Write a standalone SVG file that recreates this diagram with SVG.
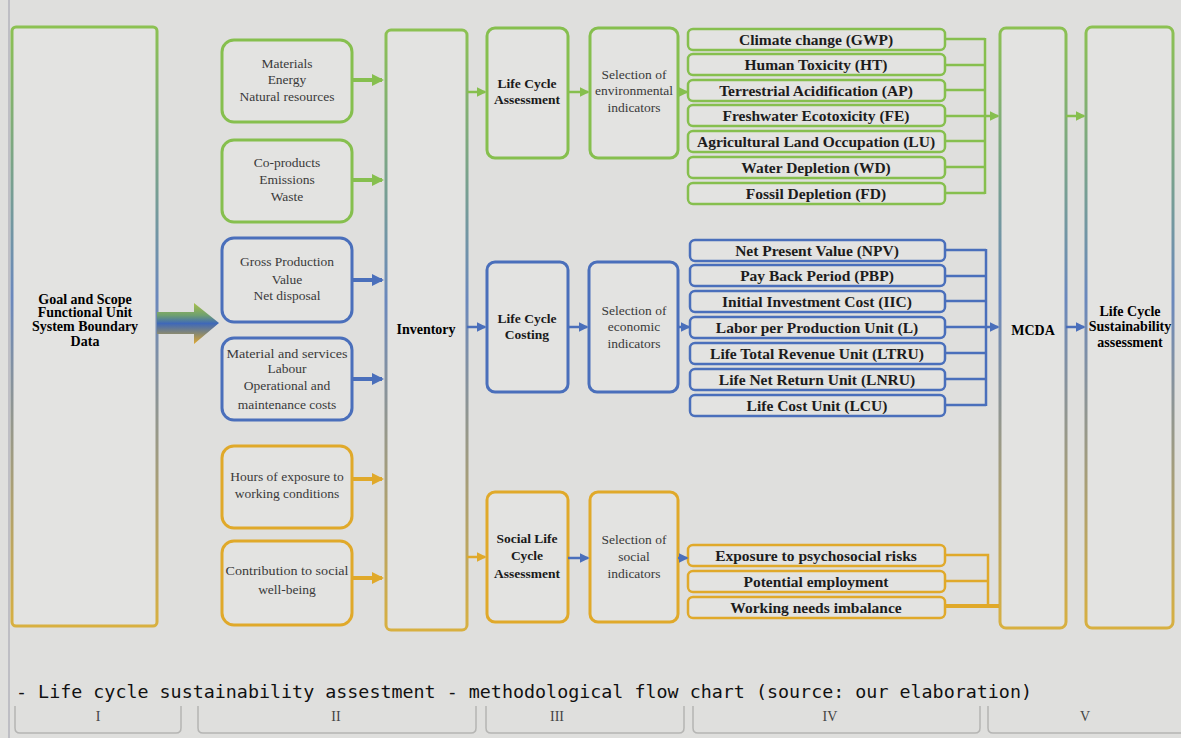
<svg xmlns="http://www.w3.org/2000/svg" width="1181" height="738" viewBox="0 0 1181 738">
<style>
.bg{fill:#dfdfdd}
.g{stroke:#86bf4e}
.b{stroke:#4a6fbb}
.o{stroke:#e0a92a}
.box{fill:#e3e3e1;stroke-width:3}
.ind{fill:#e3e3e1;stroke-width:2.5}
.t{font-family:"Liberation Serif","Times New Roman",serif;fill:#3a3a3a;text-anchor:middle;font-size:13.5px}
.ts{font-family:"Liberation Serif","Times New Roman",serif;fill:#3a3a3a;text-anchor:middle;font-size:13.5px}
.tb{font-family:"Liberation Serif","Times New Roman",serif;fill:#1a1a1a;text-anchor:middle;font-weight:bold;font-size:13.5px}
.ti{font-family:"Liberation Serif","Times New Roman",serif;fill:#1c1c1c;text-anchor:middle;font-weight:bold;font-size:15.5px}
.big{font-family:"Liberation Serif","Times New Roman",serif;fill:#000;text-anchor:middle;font-weight:900;font-size:14px}
.ln{fill:none;stroke-width:2.5}
.ar{fill:none;stroke-width:4}
.tab{fill:none;stroke:#b5b5b3;stroke-width:1.5}
.tl{font-family:"Liberation Serif","Times New Roman",serif;fill:#444;text-anchor:middle;font-size:14px}
</style>
<defs>
<linearGradient id="vg" x1="0" y1="0" x2="0" y2="1">
<stop offset="0" stop-color="#8cc152"/>
<stop offset="0.45" stop-color="#6a88bd"/>
<stop offset="1" stop-color="#d8b040"/>
</linearGradient>
<linearGradient id="ag" x1="0" y1="0" x2="0" y2="1">
<stop offset="0" stop-color="#a8c04a"/>
<stop offset="0.3" stop-color="#6fa070"/>
<stop offset="0.5" stop-color="#3f68b8"/>
<stop offset="0.75" stop-color="#8a8a70"/>
<stop offset="1" stop-color="#e0a830"/>
</linearGradient>
<marker id="mg" viewBox="0 0 6 6" refX="5" refY="3" markerWidth="3" markerHeight="3" orient="auto"><path d="M0,0 L6,3 L0,6 z" fill="#86bf4e"/></marker>
<marker id="mb" viewBox="0 0 6 6" refX="5" refY="3" markerWidth="3" markerHeight="3" orient="auto"><path d="M0,0 L6,3 L0,6 z" fill="#4a6fbb"/></marker>
<marker id="mo" viewBox="0 0 6 6" refX="5" refY="3" markerWidth="3" markerHeight="3" orient="auto"><path d="M0,0 L6,3 L0,6 z" fill="#e0a92a"/></marker>
<marker id="sg" viewBox="0 0 6 6" refX="5" refY="3" markerWidth="4" markerHeight="4" orient="auto"><path d="M0,0 L6,3 L0,6 z" fill="#86bf4e"/></marker>
<marker id="sb" viewBox="0 0 6 6" refX="5" refY="3" markerWidth="4" markerHeight="4" orient="auto"><path d="M0,0 L6,3 L0,6 z" fill="#4a6fbb"/></marker>
<marker id="so" viewBox="0 0 6 6" refX="5" refY="3" markerWidth="4" markerHeight="4" orient="auto"><path d="M0,0 L6,3 L0,6 z" fill="#e0a92a"/></marker>
</defs>
<rect class="bg" x="0" y="0" width="1181" height="738"/>
<line x1="9" y1="0" x2="9" y2="738" stroke="#a8a8b4" stroke-width="1.2"/>

<g id="goal">
<rect x="12" y="27" width="145" height="599" rx="4" fill="#e3e3e1" stroke="url(#vg)" stroke-width="3"/>
<text class="big" x="85" y="304">Goal and Scope</text>
<text class="big" x="85" y="317">Functional Unit</text>
<text class="big" x="85" y="331">System Boundary</text>
<text class="big" x="85" y="346">Data</text>
</g>
<g id="bigarrow">
<path d="M157,312 H194 V303 L219,323 L194,344 V334 H157 Z" fill="url(#ag)"/>
</g>

<g id="in1"><rect class="box g" x="222" y="40" width="130" height="82" rx="12"/>
<text class="t" x="287" y="68">Materials</text><text class="t" x="287" y="84">Energy</text><text class="t" x="287" y="101">Natural resources</text></g>
<g id="in2"><rect class="box g" x="222" y="140" width="130" height="82" rx="12"/>
<text class="t" x="287" y="167">Co-products</text><text class="t" x="287" y="184">Emissions</text><text class="t" x="287" y="201">Waste</text></g>
<g id="in3"><rect class="box b" x="222" y="238" width="130" height="84" rx="12"/>
<text class="t" x="287" y="266">Gross Production</text><text class="t" x="287" y="284">Value</text><text class="t" x="287" y="300">Net disposal</text></g>
<g id="in4"><rect class="box b" x="222" y="338" width="130" height="82" rx="12"/>
<text class="t" x="287" y="358" textLength="121" lengthAdjust="spacingAndGlyphs">Material and services</text><text class="t" x="287" y="373">Labour</text><text class="t" x="287" y="390">Operational and</text><text class="t" x="287" y="409">maintenance costs</text></g>
<g id="in5"><rect class="box o" x="222" y="446" width="130" height="82" rx="12"/>
<text class="t" x="287" y="481">Hours of exposure to</text><text class="t" x="287" y="498">working conditions</text></g>
<g id="in6"><rect class="box o" x="222" y="541" width="130" height="84" rx="12"/>
<text class="t" x="287" y="575" textLength="123" lengthAdjust="spacingAndGlyphs">Contribution to social</text><text class="t" x="287" y="594">well-being</text></g>

<g id="inventory">
<rect x="386" y="30" width="81" height="600" rx="5" fill="#e3e3e1" stroke="url(#vg)" stroke-width="3"/>
<text class="big" x="426" y="334">Inventory</text>
</g>

<g id="lca"><rect class="box g" x="487" y="28" width="81" height="130" rx="8"/>
<text class="tb" x="527" y="88">Life Cycle</text><text class="tb" x="527" y="104">Assessment</text></g>
<g id="sel-env"><rect class="box g" x="590" y="28" width="88" height="130" rx="8"/>
<text class="ts" x="634" y="79">Selection of</text><text class="ts" x="634" y="95">environmental</text><text class="ts" x="634" y="112">indicators</text></g>
<g id="lcc"><rect class="box b" x="487" y="262" width="81" height="130" rx="8"/>
<text class="tb" x="527" y="323">Life Cycle</text><text class="tb" x="527" y="339">Costing</text></g>
<g id="sel-eco"><rect class="box b" x="589" y="262" width="89" height="130" rx="8"/>
<text class="ts" x="634" y="315">Selection of</text><text class="ts" x="634" y="331">economic</text><text class="ts" x="634" y="348">indicators</text></g>
<g id="slca"><rect class="box o" x="487" y="492" width="81" height="130" rx="8"/>
<text class="tb" x="527" y="543">Social Life</text><text class="tb" x="527" y="560">Cycle</text><text class="tb" x="527" y="578">Assessment</text></g>
<g id="sel-soc"><rect class="box o" x="590" y="492" width="88" height="130" rx="8"/>
<text class="ts" x="634" y="544">Selection of</text><text class="ts" x="634" y="561">social</text><text class="ts" x="634" y="578">indicators</text></g>

<g id="env-indicators">
<rect class="ind g" x="688" y="29" width="257" height="21" rx="5"/><text class="ti" x="816" y="45">Climate change (GWP)</text>
<rect class="ind g" x="688" y="54" width="257" height="21" rx="5"/><text class="ti" x="816" y="70">Human Toxicity (HT)</text>
<rect class="ind g" x="688" y="80" width="257" height="21" rx="5"/><text class="ti" x="816" y="96">Terrestrial Acidification (AP)</text>
<rect class="ind g" x="688" y="105" width="257" height="21" rx="5"/><text class="ti" x="816" y="121">Freshwater Ecotoxicity (FE)</text>
<rect class="ind g" x="688" y="131" width="257" height="21" rx="5"/><text class="ti" x="816" y="147">Agricultural Land Occupation (LU)</text>
<rect class="ind g" x="688" y="157" width="257" height="21" rx="5"/><text class="ti" x="816" y="173">Water Depletion (WD)</text>
<rect class="ind g" x="688" y="183" width="257" height="21" rx="5"/><text class="ti" x="816" y="199">Fossil Depletion (FD)</text>
</g>
<g id="eco-indicators">
<rect class="ind b" x="690" y="240" width="255" height="21" rx="5"/><text class="ti" x="817" y="256">Net Present Value (NPV)</text>
<rect class="ind b" x="690" y="265" width="255" height="21" rx="5"/><text class="ti" x="817" y="281">Pay Back Period (PBP)</text>
<rect class="ind b" x="690" y="291" width="255" height="21" rx="5"/><text class="ti" x="817" y="307">Initial Investment Cost (IIC)</text>
<rect class="ind b" x="690" y="317" width="255" height="21" rx="5"/><text class="ti" x="817" y="333">Labor per Production Unit (L)</text>
<rect class="ind b" x="690" y="343" width="255" height="21" rx="5"/><text class="ti" x="817" y="359">Life Total Revenue Unit (LTRU)</text>
<rect class="ind b" x="690" y="369" width="255" height="21" rx="5"/><text class="ti" x="817" y="385">Life Net Return Unit (LNRU)</text>
<rect class="ind b" x="690" y="395" width="255" height="21" rx="5"/><text class="ti" x="817" y="411">Life Cost Unit (LCU)</text>
</g>
<g id="soc-indicators">
<rect class="ind o" x="688" y="545" width="257" height="21" rx="5"/><text class="ti" x="816" y="561">Exposure to psychosocial risks</text>
<rect class="ind o" x="688" y="571" width="257" height="21" rx="5"/><text class="ti" x="816" y="587">Potential employment</text>
<rect class="ind o" x="688" y="597" width="257" height="21" rx="5"/><text class="ti" x="816" y="613">Working needs imbalance</text>
</g>

<g id="mcda">
<rect x="1000" y="28" width="66" height="600" rx="6" fill="#e3e3e1" stroke="url(#vg)" stroke-width="3"/>
<text class="big" x="1033" y="335" font-size="14.5">MCDA</text>
</g>
<g id="lcsa">
<rect x="1086" y="27" width="87" height="601" rx="6" fill="#e3e3e1" stroke="url(#vg)" stroke-width="3"/>
<text class="big" x="1130" y="316">Life Cycle</text>
<text class="big" x="1130" y="331">Sustainability</text>
<text class="big" x="1130" y="347">assessment</text>
</g>

<g id="connectors">
<line class="ar g" x1="352" y1="80" x2="382" y2="80" marker-end="url(#mg)"/>
<line class="ar g" x1="352" y1="180" x2="382" y2="180" marker-end="url(#mg)"/>
<line class="ar b" x1="352" y1="280" x2="382" y2="280" marker-end="url(#mb)"/>
<line class="ar b" x1="352" y1="379" x2="382" y2="379" marker-end="url(#mb)"/>
<line class="ar o" x1="352" y1="479" x2="382" y2="479" marker-end="url(#mo)"/>
<line class="ar o" x1="352" y1="578" x2="382" y2="578" marker-end="url(#mo)"/>

<line class="ln g" x1="467" y1="92" x2="485" y2="92" marker-end="url(#sg)"/>
<line class="ln g" x1="568" y1="92" x2="588" y2="92" marker-end="url(#sg)"/>
<line class="ln g" x1="678" y1="92" x2="687" y2="92" marker-end="url(#sg)"/>
<line class="ln b" x1="467" y1="327" x2="485" y2="327" marker-end="url(#sb)"/>
<line class="ln b" x1="568" y1="327" x2="587" y2="327" marker-end="url(#sb)"/>
<line class="ln b" x1="678" y1="327" x2="689" y2="327" marker-end="url(#sb)"/>
<line class="ln o" x1="467" y1="557" x2="485" y2="557" marker-end="url(#so)"/>
<line class="ln b" x1="568" y1="558" x2="588" y2="558" marker-end="url(#sb)"/>
<line class="ln b" x1="678" y1="558" x2="687" y2="558" marker-end="url(#sb)"/>

<path class="ln g" d="M945,39 H985 M945,65 H985 M945,90 H985 M945,116 H985 M945,141 H985 M945,167 H985 M945,193 H985 M985,38 V194"/>
<line class="ln g" x1="985" y1="116" x2="998" y2="116" marker-end="url(#sg)"/>
<path class="ln b" d="M945,250 H986 M945,276 H986 M945,301 H986 M945,327 H986 M945,353 H986 M945,379 H986 M945,405 H986 M986,249 V406"/>
<line class="ln b" x1="986" y1="327" x2="998" y2="327" marker-end="url(#sb)"/>
<path class="ln o" d="M945,555 H988 V606 M945,581 H988"/>
<path class="ar o" d="M945,606 H999"/>

<line class="ln g" x1="1066" y1="116" x2="1084" y2="116" marker-end="url(#sg)"/>
<line class="ln b" x1="1066" y1="327" x2="1084" y2="327" marker-end="url(#sb)"/>
</g>

<g id="caption">
<text x="16" y="698" font-family="'DejaVu Sans Mono','Liberation Mono',monospace" font-size="17" fill="#111" textLength="1016" lengthAdjust="spacingAndGlyphs">- Life cycle sustainability assestment - methodological flow chart (source: our elaboration)</text>
</g>
<g id="tabs">
<path class="tab" d="M15,706 V728 Q15,733 20,733 H176 Q181,733 181,728 V706"/>
<path class="tab" d="M198,706 V728 Q198,733 203,733 H471 Q476,733 476,728 V706"/>
<path class="tab" d="M486,706 V728 Q486,733 491,733 H679 Q684,733 684,728 V706"/>
<path class="tab" d="M693,706 V728 Q693,733 698,733 H975 Q980,733 980,728 V706"/>
<path class="tab" d="M988,706 V728 Q988,733 993,733 H1181"/>
<text class="tl" x="98" y="721">I</text>
<text class="tl" x="336" y="721">II</text>
<text class="tl" x="557" y="721">III</text>
<text class="tl" x="830" y="721">IV</text>
<text class="tl" x="1085" y="721">V</text>
</g>
</svg>
